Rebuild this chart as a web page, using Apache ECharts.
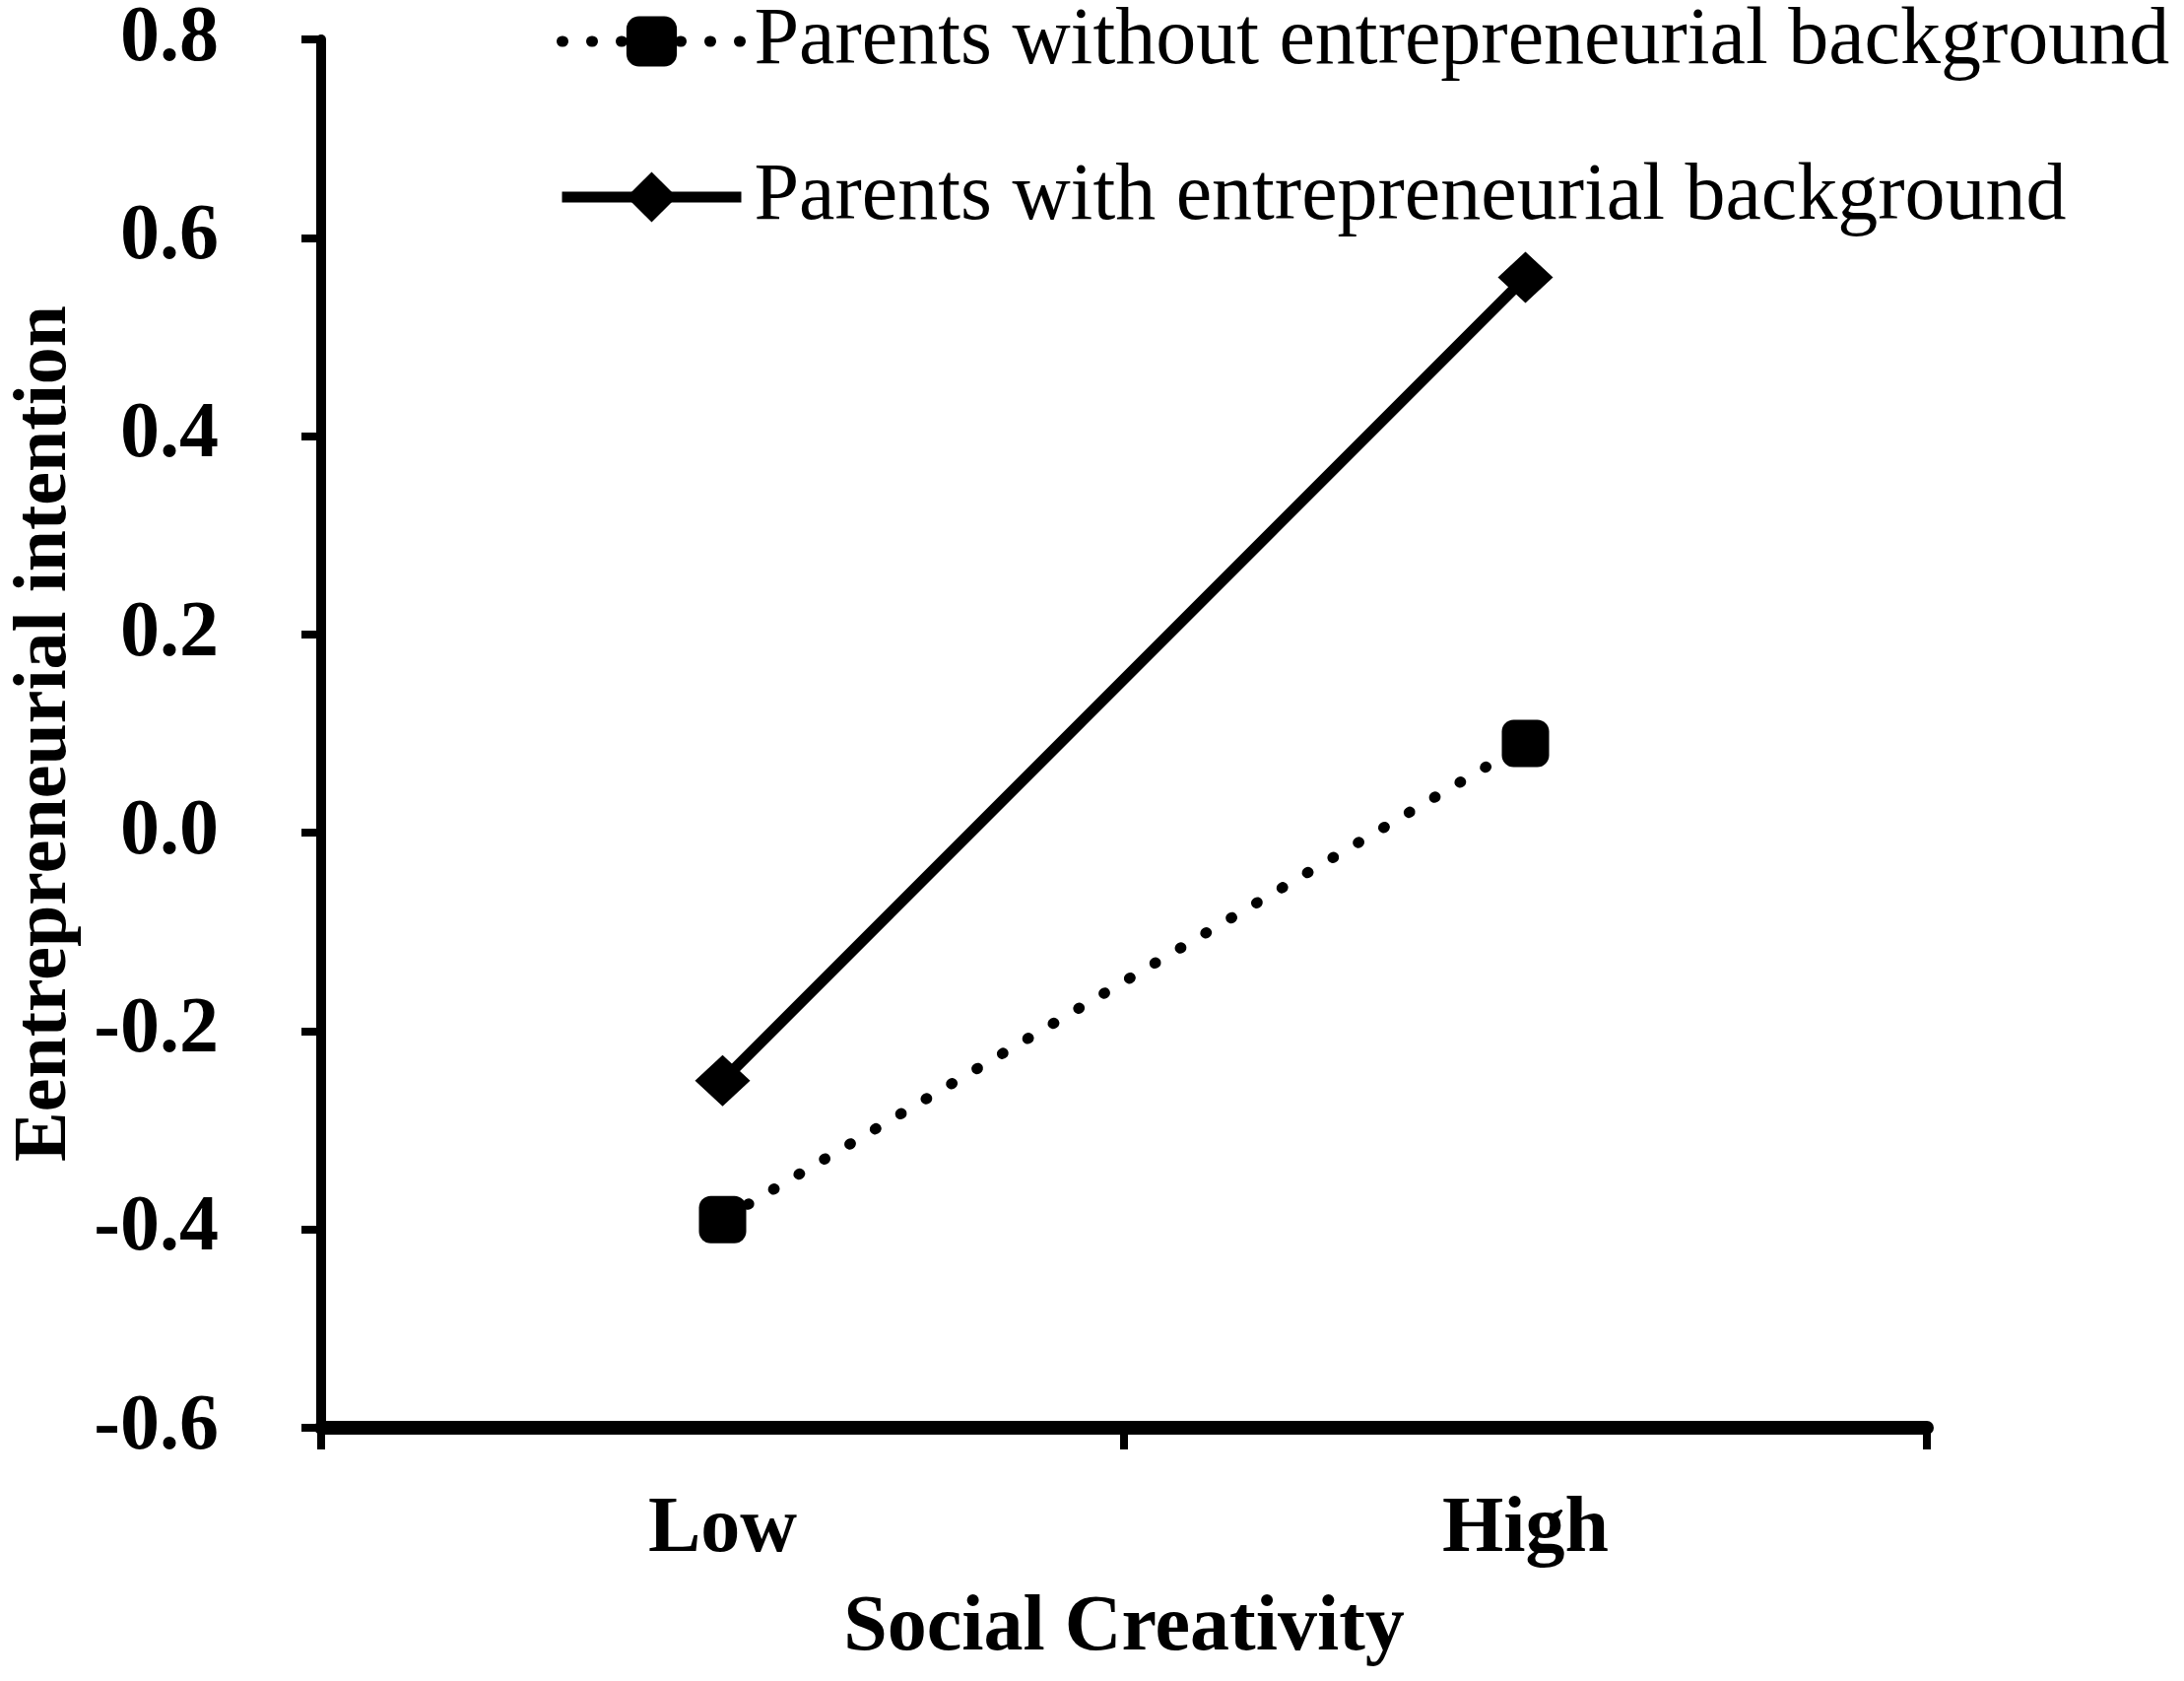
<!DOCTYPE html>
<html>
<head>
<meta charset="utf-8">
<script src="https://cdn.jsdelivr.net/npm/echarts@6/dist/echarts.min.js"></script>
<style>
html,body{margin:0;padding:0;background:#fff;}
#chart{width:2217px;height:1706px;}
</style>
</head>
<body>
<div id="chart"></div>
<script>
const categories = ['Low', 'High'];
const seriesNames = ['Parents without entrepreneurial background', 'Parents with entrepreneurial background'];
const withoutValues = [-0.39, 0.09];
const withValues = [-0.25, 0.56];
const yMin = -0.6, yMax = 0.8, yStep = 0.2;
const xTitle = 'Social Creativity';
const yTitle = 'Eentrepreneurial intention';

const FONT = '"Liberation Serif", "Times New Roman", serif';
const chart = echarts.init(document.getElementById('chart'));
chart.setOption({
  animation: false,
  backgroundColor: '#fff',
  grid: { left: 313, right: 261, top: 40, bottom: 257, containLabel: false },
  legend: {
    orient: 'vertical',
    left: 560,
    top: -4,
    itemWidth: 182,
    itemHeight: 64,
    itemGap: 76,
    lineStyle: { width: 11 },
    textStyle: { fontFamily: FONT, fontSize: 82, color: '#000', lineHeight: 76, padding: [0, 0, 0, 8] },
    data: seriesNames
  },
  xAxis: {
    type: 'category',
    data: categories,
    boundaryGap: true,
    axisLine: { onZero: false, lineStyle: { color: '#000', width: 14 } },
    axisTick: { show: true, length: 22, lineStyle: { color: '#000', width: 8 } },
    axisLabel: { fontFamily: FONT, fontWeight: 'bold', fontSize: 80, color: '#000', margin: 64 },
    name: xTitle,
    nameLocation: 'middle',
    nameGap: 164,
    nameTextStyle: { fontFamily: FONT, fontWeight: 'bold', fontSize: 80, color: '#000', verticalAlign: 'top' }
  },
  yAxis: {
    type: 'value',
    min: yMin, max: yMax, interval: yStep,
    splitLine: { show: false },
    axisLine: { show: true, lineStyle: { color: '#000', width: 10 } },
    axisTick: { show: true, length: 20, lineStyle: { color: '#000', width: 8 } },
    axisLabel: {
      fontFamily: FONT, fontWeight: 'bold', fontSize: 80, color: '#000', margin: 104,
      formatter: v => (Math.abs(v) < 1e-9 ? 0 : v).toFixed(1)
    },
    name: yTitle,
    nameLocation: 'middle',
    nameGap: 242,
    nameRotate: 90,
    nameTextStyle: { fontFamily: FONT, fontWeight: 'bold', fontSize: 76, color: '#000' }
  },
  series: [
    {
      name: seriesNames[0],
      type: 'line',
      data: withoutValues,
      symbol: 'roundRect',
      symbolSize: 48,
      itemStyle: { color: '#000' },
      lineStyle: { color: '#000', width: 11, type: [1, 29], cap: 'round' }
    },
    {
      name: seriesNames[1],
      type: 'line',
      data: withValues,
      symbol: 'diamond',
      symbolSize: [56, 52],
      itemStyle: { color: '#000' },
      lineStyle: { color: '#000', width: 11, type: 'solid' }
    }
  ]
});
</script>
</body>
</html>
